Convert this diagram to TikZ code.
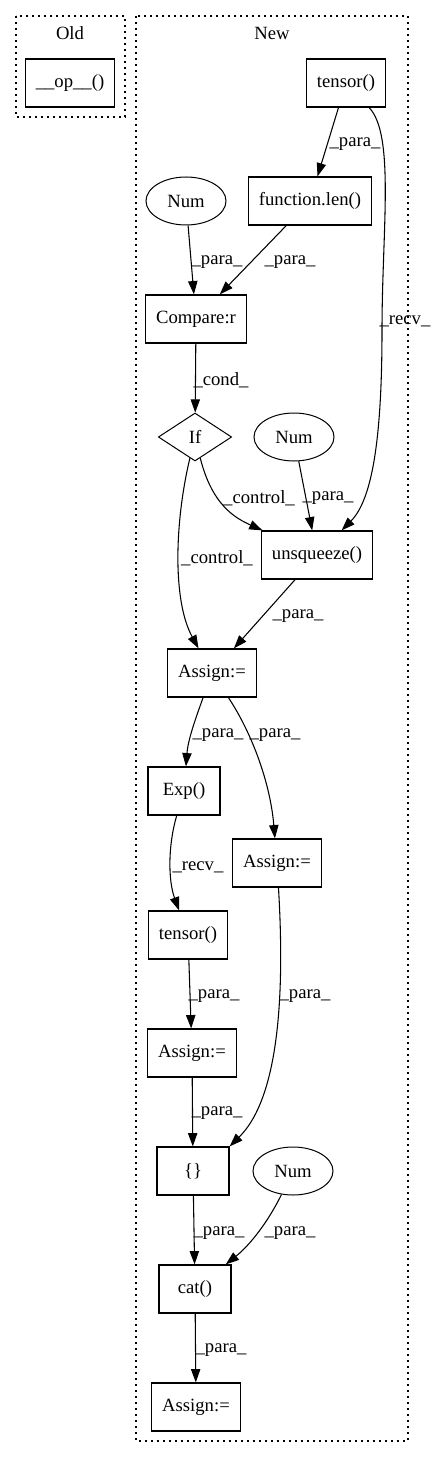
\documentclass[tikz,border=0pt]{standalone}
\usepackage{fontspec}
\setmainfont{Liberation Serif}
\usetikzlibrary{
  arrows.meta,
  shapes.geometric}

\tikzset{
  every node/.style={font=\fontsize{14}{16}\selectfont},
  fn/.style={draw, rectangle, line width=0.9pt, minimum width=54pt,
    minimum height=36pt, inner xsep=8pt, inner ysep=0pt},
  num/.style={draw, ellipse, line width=0.75pt, minimum width=60pt,
    minimum height=36pt, inner sep=0pt},
  cond/.style={draw, diamond, line width=0.75pt, minimum width=55pt,
    minimum height=36pt, inner sep=0pt},
  flow/.style={line width=0.8pt, -{Triangle[length=10pt,width=7pt]}},
  cluster/.style={line width=1.2pt, dash pattern=on 1.3pt off 3.2pt},
  lbl/.style={inner sep=0pt},
}

\begin{document}
\begin{tikzpicture}[x=0.75pt, y=-0.75pt]
\useasboundingbox (0,0) rectangle (436,1458);

% clusters
\draw[cluster] (16,16) rectangle (125,117);
\node (oldtitle) at (70,33) {Old};
\draw[cluster] (136,16) rectangle (408,1441);
\node (newtitle) at (272,33) {New};

% nodes
\node[fn] (opold) at (70,83) {\_\_op\_\_()};
\node[fn] (tensorA) at (346,83) {tensor()};
\node[fn] (funclen) at (310,201) {function.len()};
\node[num] (numA) at (186,201) {Num};
\node[fn] (compare) at (196,319) {Compare:r};
\node[cond] (ifnode) at (195,437) {If};
\node[num] (numB) at (294,437) {Num};
\node[fn] (unsqueeze) at (317,555) {unsqueeze()};
\node[fn] (assignA) at (212,673) {Assign:=};
\node[fn] (expfn) at (184,791) {Exp()};
\node[fn] (assignB) at (277,863) {Assign:=};
\node[fn] (tensorB) at (188,935) {tensor()};
\node[fn] (assignC) at (192,1053) {Assign:=};
\node[fn] (braces) at (193,1171) {\{\}};
\node[num] (numC) at (293,1171) {Num};
\node[fn] (catfn) at (195,1289) {cat()};
\node[fn] (assignD) at (196,1407) {Assign:=};

% edges
\draw[flow] (tensorA) -- (funclen) node[lbl] at (355,144) {\_para\_};
\draw[flow] (numA) -- (compare) node[lbl] at (217,262) {\_para\_};
\draw[flow] (funclen) -- (compare) node[lbl] at (290,262) {\_para\_};
\draw[flow] (tensorA) .. controls (395,135) and (382,230) .. (382,330)
  .. controls (382,440) and (372,500) .. (unsqueeze)
  node[lbl] at (405,321) {\_recv\_};
\draw[flow] (compare) -- (ifnode) node[lbl] at (221,380) {\_cond\_};
\draw[flow] (ifnode) .. controls (212,505) and (235,518) .. (unsqueeze)
  node[lbl] at (259,498) {\_control\_};
\draw[flow] (numB) -- (unsqueeze) node[lbl] at (328,498) {\_para\_};
\draw[flow] (ifnode) .. controls (175,520) and (172,600) .. (assignA)
  node[lbl] at (217,558) {\_control\_};
\draw[flow] (unsqueeze) -- (assignA) node[lbl] at (298,616) {\_para\_};
\draw[flow] (assignA) .. controls (195,720) and (188,740) .. (expfn)
  node[lbl] at (218,735) {\_para\_};
\draw[flow] (assignA) .. controls (250,730) and (270,780) .. (assignB)
  node[lbl] at (275,735) {\_para\_};
\draw[flow] (expfn) .. controls (168,845) and (168,880) .. (tensorB)
  node[lbl] at (198,867) {\_recv\_};
\draw[flow] (tensorB) -- (assignC) node[lbl] at (214,996) {\_para\_};
\draw[flow] (assignB) .. controls (284,980) and (282,1095) .. (braces.north east)
  node[lbl] at (305,996) {\_para\_};
\draw[flow] (assignC) -- (braces) node[lbl] at (217,1113) {\_para\_};
\draw[flow] (braces) -- (catfn) node[lbl] at (219,1233) {\_para\_};
\draw[flow] (numC) .. controls (268,1222) and (250,1245) .. (catfn)
  node[lbl] at (290,1233) {\_para\_};
\draw[flow] (catfn) -- (assignD) node[lbl] at (221,1350) {\_para\_};

\end{tikzpicture}
\end{document}
